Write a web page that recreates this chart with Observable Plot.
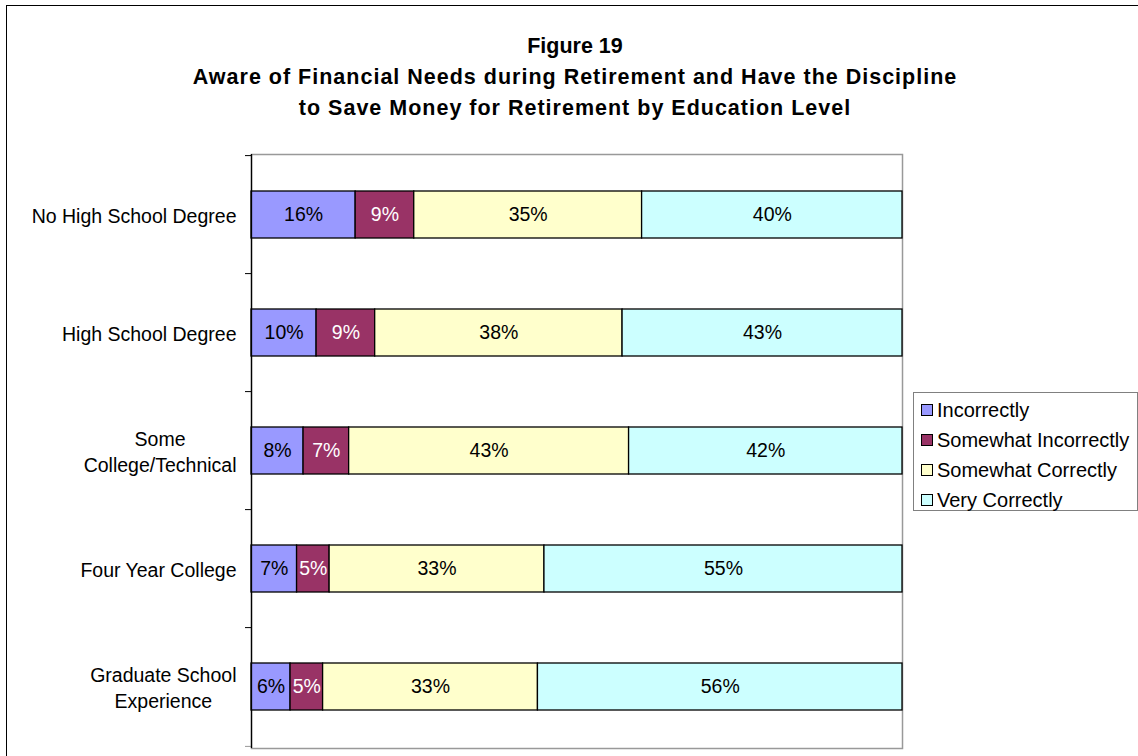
<!DOCTYPE html>
<html><head><meta charset="utf-8">
<script src="https://cdn.jsdelivr.net/npm/d3@7"></script>
<script src="https://cdn.jsdelivr.net/npm/@observablehq/plot@0.6"></script>
<style>
html,body{margin:0;padding:0;background:#fff;overflow:hidden;width:1138px;height:756px}
body{font-family:"Liberation Sans",Arial,sans-serif;position:relative}
#border{position:absolute;left:6px;top:5px;width:1200px;height:800px;border:1px solid #000;box-sizing:border-box}
#title{position:absolute;left:6px;width:1138px;top:31px;text-align:center;font-weight:bold;font-size:21.5px;line-height:31px;color:#000}
#title .l2{letter-spacing:1px}
#chart{position:absolute;left:0;top:0}
#legend{position:absolute;left:913px;top:392px;width:225px;height:119px;border:1px solid #808080;box-sizing:border-box;padding-top:2px;font-size:20px;color:#000}
#legend .item{height:30px;display:flex;align-items:center;padding-left:7px}
#legend .sw{width:10px;height:10px;border:1.5px solid #000;margin-right:4px;flex:none}
</style></head>
<body>
<div id="border"></div>
<div id="title"><span>Figure 19</span><br><span class="l2">Aware of Financial Needs during Retirement and Have the Discipline</span><br><span class="l2">to Save Money for Retirement by Education Level</span></div>
<div id="chart"></div>
<div id="legend"></div>
<script>
const categories = ["No High School Degree","High School Degree","Some College/Technical","Four Year College","Graduate School Experience"];
const categoryLabels = ["No High School Degree","High School Degree","Some\nCollege/Technical","Four Year College","Graduate School\nExperience"];
const series = ["Incorrectly","Somewhat Incorrectly","Somewhat Correctly","Very Correctly"];
const incorrectly = [16,10,8,7,6];
const somewhatIncorrectly = [9,9,7,5,5];
const somewhatCorrectly = [35,38,43,33,33];
const veryCorrectly = [40,43,42,55,56];
const colors = ["#9999FF","#993366","#FFFFCC","#CCFFFF"];
const labelColors = ["#000","#fff","#000","#000"];

const seriesValues = [incorrectly, somewhatIncorrectly, somewhatCorrectly, veryCorrectly];
const data = [];
categories.forEach((c, i) => {
  let start = 0;
  series.forEach((s, j) => {
    const v = seriesValues[j][i];
    data.push({category: c, series: s, value: v, x1: start, x2: start + v, mid: start + v / 2, labelColor: labelColors[j]});
    start += v;
  });
});

const W = 1138, H = 756, mT = 154, mB = 8, mL = 251, mR = 236;
const step = (H - mT - mB) / categories.length;
const labelOf = Object.fromEntries(categories.map((c, i) => [c, categoryLabels[i]]));
const FS = 19.5;

const chart = Plot.plot({
  width: W, height: H,
  marginTop: mT, marginBottom: mB, marginLeft: mL, marginRight: mR,
  style: {fontFamily: '"Liberation Sans", Arial, sans-serif', fontSize: FS + "px", background: "transparent"},
  x: {domain: [0, 100], axis: null},
  y: {domain: categories, paddingInner: 0.6, paddingOuter: 0.3, axis: null},
  color: {domain: series, range: colors},
  marks: [
    Plot.frame({stroke: "#999", strokeWidth: 1.5}),
    Plot.barX(data, {x1: "x1", x2: "x2", y: "category", fill: "series", stroke: "#000", strokeWidth: 1.3}),
    Plot.text(data.filter(d => d.labelColor === "#000"), {x: "mid", y: "category", text: d => d.value + "%", fill: "#000", fontSize: FS}),
    Plot.text(data.filter(d => d.labelColor === "#fff"), {x: "mid", y: "category", text: d => d.value + "%", fill: "#fff", fontSize: FS}),
    Plot.ruleY(categories, {y: d => d, x1: 0, x2: 0, insetLeft: -6, dy: -step / 2, stroke: "#000"}),
    Plot.ruleY(categories.slice(-1), {y: d => d, x1: 0, x2: 0, insetLeft: -6, dy: step / 2, stroke: "#999"}),
    Plot.ruleX([0], {stroke: "#000", strokeWidth: 1.3}),
    Plot.axisY({label: null, tickSize: 0, tickPadding: 15, tickFormat: d => labelOf[d], lineHeight: 1.33, fill: "#000", fontSize: FS})
  ]
});
document.getElementById("chart").appendChild(chart);

// center multi-line category labels on their widest line
chart.querySelectorAll("text").forEach(t => {
  const spans = t.querySelectorAll("tspan");
  if (spans.length > 1) {
    const w = t.getBBox().width;
    t.setAttribute("text-anchor", "middle");
    spans.forEach(s => s.setAttribute("x", -w / 2));
  }
});

const legend = document.getElementById("legend");
series.forEach((s, j) => {
  const item = document.createElement("div");
  item.className = "item";
  const sw = document.createElement("div");
  sw.className = "sw";
  sw.style.background = colors[j];
  const lab = document.createElement("span");
  lab.textContent = s;
  item.appendChild(sw);
  item.appendChild(lab);
  legend.appendChild(item);
});
</script>
</body></html>
